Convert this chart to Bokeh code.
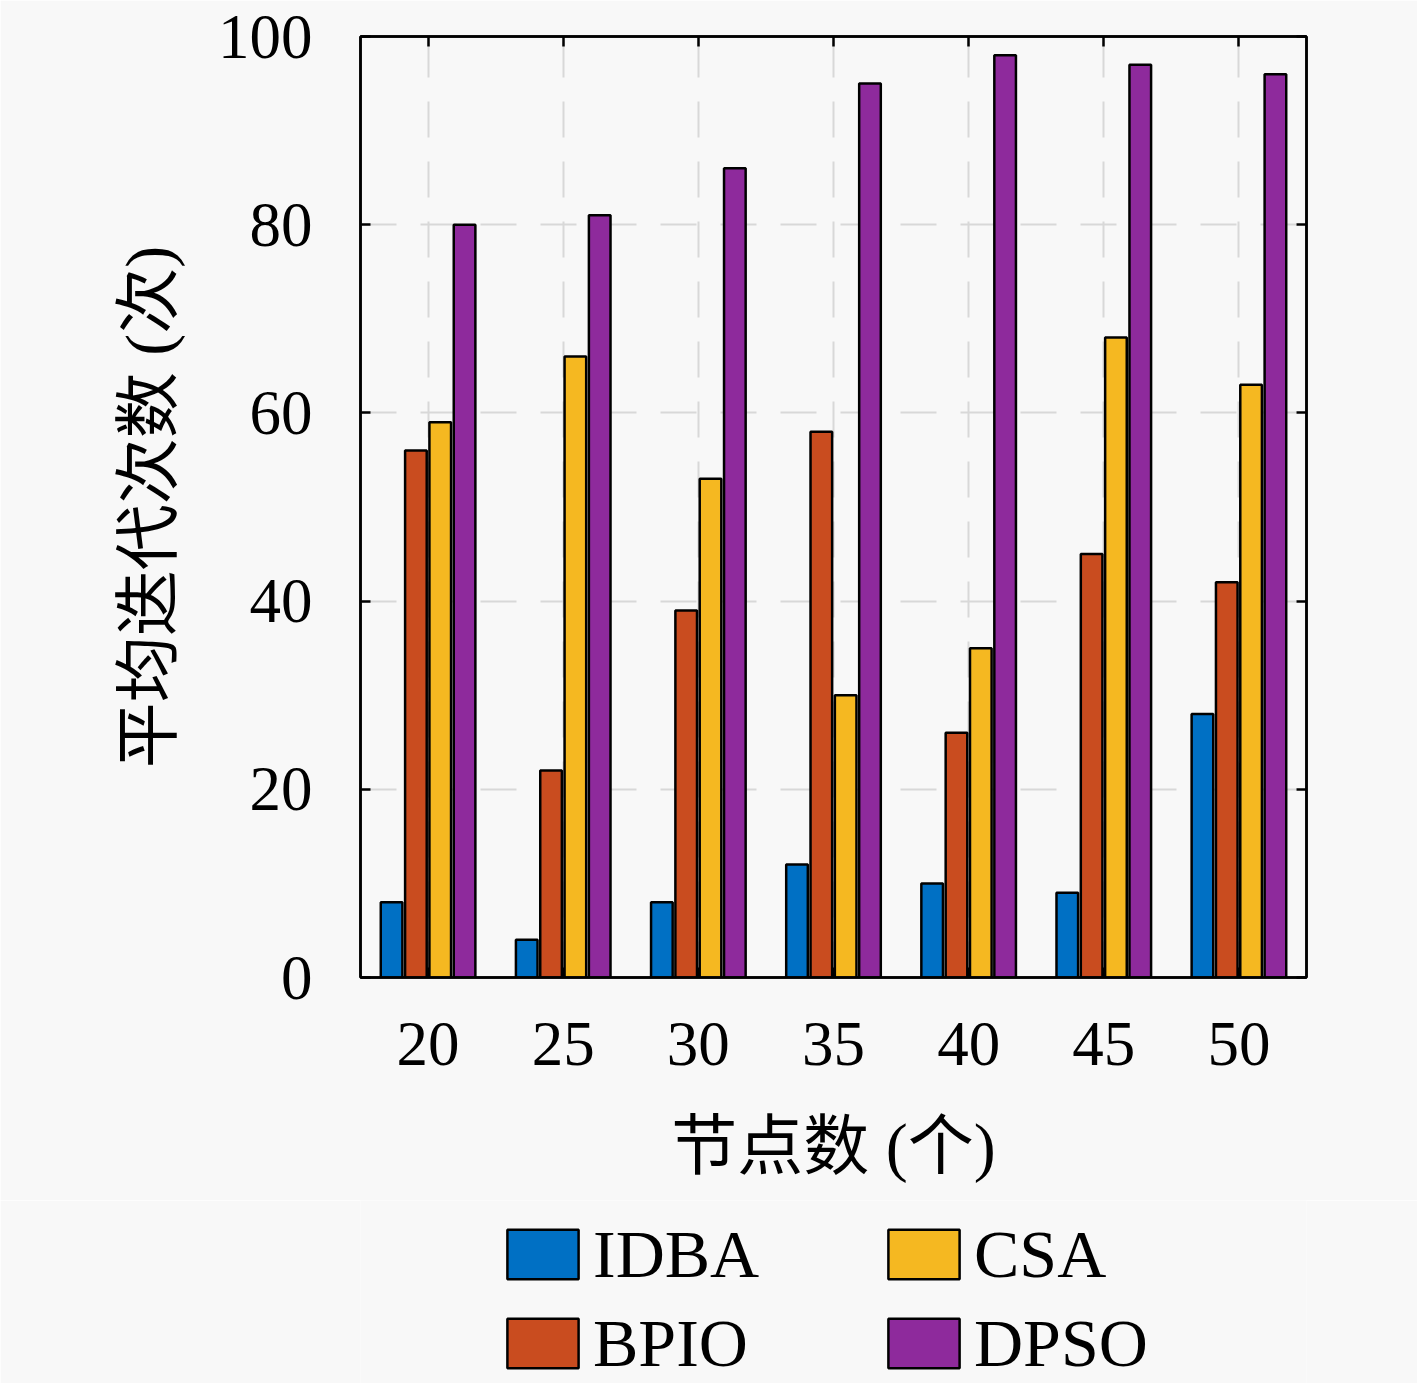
from bokeh.plotting import figure
from bokeh.layouts import column
from bokeh.models import FixedTicker, LinearAxis, Legend, LegendItem, Range1d, CustomJSTickFormatter
from bokeh.embed import file_html
from bokeh.resources import INLINE

nodes = [20, 25, 30, 35, 40, 45, 50]
IDBA = [8, 4, 8, 12, 10, 9, 28]
BPIO = [56, 22, 39, 58, 26, 45, 42]
CSA = [59, 66, 53, 30, 35, 68, 63]
DPSO = [80, 81, 86, 95, 98, 97, 96]
series_names = ["IDBA", "BPIO", "CSA", "DPSO"]
series_values = [IDBA, BPIO, CSA, DPSO]
colors = ["#0070C4", "#C94C1F", "#F5B821", "#8E2A9C"]
offsets = [-1.35, -0.45, 0.45, 1.35]
y_ticks = [0, 20, 40, 60, 80, 100]
legend_order = ["IDBA", "CSA", "BPIO", "DPSO"]

BG = "#f8f8f8"
SERIF = "Liberation Serif"
CJK = "Liberation Serif, Noto Sans CJK SC"

p = figure(width=1417, height=1200,
           min_border_left=360, min_border_right=111,
           min_border_top=36, min_border_bottom=223,
           x_range=Range1d(17.5, 52.5), y_range=Range1d(0, 100),
           output_backend="svg", toolbar_location=None,
           background_fill_color=BG, border_fill_color=BG)

for name, vals, col, off in zip(series_names, series_values, colors, offsets):
    xs = [n + off for n in nodes]
    p.vbar(x=xs, top=vals, bottom=0, width=0.8, fill_color=col,
           line_color="black", line_width=2.5)

p.outline_line_color = "black"
p.outline_line_width = 2.5

def style_axis(ax, labels=True):
    ax.axis_line_color = "black"
    ax.axis_line_width = 2.5
    ax.major_tick_in = 10
    ax.major_tick_out = 0
    ax.major_tick_line_width = 2.5
    ax.major_tick_line_color = "black"
    ax.minor_tick_line_color = None
    ax.major_label_text_font = SERIF
    ax.major_label_text_font_size = "63px"
    ax.major_label_text_color = "black"
    if not labels:
        ax.formatter = CustomJSTickFormatter(code="return ''")
        ax.major_label_standoff = 0

xa = p.xaxis[0]
xa.ticker = FixedTicker(ticks=nodes)
style_axis(xa)
xa.major_label_standoff = 45
xa.axis_label = "节点数 (个)"
xa.axis_label_text_font = CJK
xa.axis_label_text_font_size = "66px"
xa.axis_label_text_font_style = "normal"
xa.axis_label_text_color = "black"
xa.axis_label_standoff = 42

ya = p.yaxis[0]
ya.ticker = FixedTicker(ticks=y_ticks)
style_axis(ya)
ya.major_label_standoff = 48
ya.axis_label = "平均迭代次数 (次)"
ya.axis_label_text_font = CJK
ya.axis_label_text_font_size = "66px"
ya.axis_label_text_font_style = "normal"
ya.axis_label_text_color = "black"
ya.axis_label_standoff = 30

ra = LinearAxis(ticker=FixedTicker(ticks=y_ticks))
style_axis(ra, labels=False)
p.add_layout(ra, "right")
ta = LinearAxis(ticker=FixedTicker(ticks=nodes))
style_axis(ta, labels=False)
p.add_layout(ta, "above")

p.xgrid.ticker = FixedTicker(ticks=nodes)
p.ygrid.ticker = FixedTicker(ticks=y_ticks)
for g in (p.xgrid[0], p.ygrid[0]):
    g.grid_line_color = "#d8d8d8"
    g.grid_line_width = 2
    g.grid_line_dash = "36 24"

# legend strip (proxy renderers are hidden; only the legend shows)
lg = figure(width=1417, height=183, min_border=0,
            x_range=Range1d(0, 1), y_range=Range1d(0, 1),
            output_backend="svg", toolbar_location=None,
            background_fill_color=BG, border_fill_color=BG)
lg.outline_line_color = None
for ax in lg.axis:
    ax.visible = False
lg.xgrid.visible = False
lg.ygrid.visible = False
leg_r = {}
for name, vals, col, off in zip(series_names, series_values, colors, offsets):
    xs = [n + off for n in nodes]
    leg_r[name] = lg.vbar(x=xs, top=vals, bottom=0, width=0.8, fill_color=col,
                          line_color="black", line_width=2.5, visible=False)
items = [LegendItem(label=n, renderers=[leg_r[n]]) for n in legend_order]
leg = Legend(items=items, location=(138, 0), orientation="horizontal", ncols=2,
             glyph_width=89, glyph_height=62, label_standoff=6, spacing=9,
             label_width=277, label_height=80,
             label_text_font=SERIF, label_text_font_size="68px",
             label_text_color="black", click_policy="none",
             border_line_alpha=0, background_fill_alpha=0, padding=0, margin=0)
lg.add_layout(leg, "center")

open("out.html", "w").write(file_html(column(p, lg, spacing=0), INLINE))
